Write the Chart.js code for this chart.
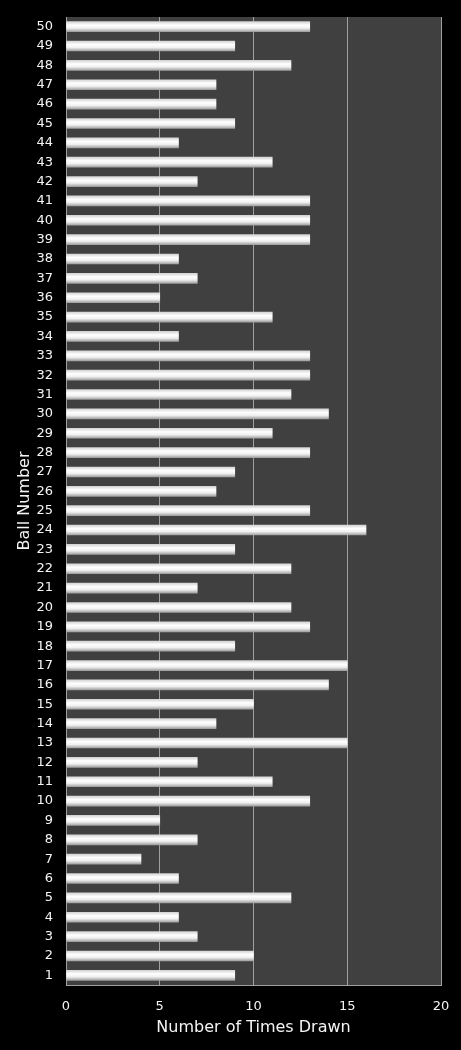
<!DOCTYPE html>
<html>
<head>
<meta charset="utf-8">
<script src="https://cdn.jsdelivr.net/npm/chart.js@4"></script>
<style>
  html, body { margin: 0; padding: 0; background: #000; }
  #wrap { width: 461px; height: 1050px; }
</style>
</head>
<body>
<div id="wrap"><canvas id="ballChart" width="461" height="1050"></canvas></div>
<script>
// ball numbers 1..50 (bottom to top) and how often each was drawn
const balls = ['1','2','3','4','5','6','7','8','9','10','11','12','13','14','15','16','17','18','19','20',
  '21','22','23','24','25','26','27','28','29','30','31','32','33','34','35','36','37','38','39','40',
  '41','42','43','44','45','46','47','48','49','50'];
const timesDrawn = [9,10,7,6,12,6,4,7,5,13, 11,7,15,8,10,14,15,9,13,12,
  7,12,9,16,13,8,9,13,11,14, 12,13,13,6,11,5,7,6,13,13,
  13,7,11,6,9,8,8,12,9,13];
const xTicks = [0, 5, 10, 15, 20];

const plotBg = {
    id: 'plotBg',
    beforeDraw(chart) {
        const { ctx, chartArea: a } = chart;
        ctx.save();
        ctx.fillStyle = '#404040';
        ctx.fillRect(a.left, a.top, a.right - a.left, a.bottom - a.top);
        ctx.restore();
    }
};

function barFill(context) {
    const chart = context.chart;
    const yScale = chart.scales.y;
    if (!yScale || context.dataIndex === undefined) return '#e0e0e0';
    const y = yScale.getPixelForValue(context.dataIndex);
    if (!isFinite(y)) return '#e0e0e0';
    const g = chart.ctx.createLinearGradient(0, y - 5, 0, y + 5);
    g.addColorStop(0, '#d4d4d4');
    g.addColorStop(0.35, '#ffffff');
    g.addColorStop(0.65, '#f0f0f0');
    g.addColorStop(1, '#a0a0a0');
    return g;
}

const ctx = document.getElementById('ballChart').getContext('2d');
new Chart(ctx, {
    type: 'bar',
    data: {
        labels: balls,
        datasets: [{
            data: timesDrawn,
            backgroundColor: barFill,
            borderWidth: 0,
            barThickness: 10
        }]
    },
    options: {
        indexAxis: 'y',
        responsive: false,
        animation: false,
        layout: { padding: { top: 17, right: 20, left: 0, bottom: 0 } },
        plugins: {
            legend: { display: false },
            tooltip: { enabled: false }
        },
        scales: {
            x: {
                min: 0,
                max: 20,
                afterBuildTicks: (scale) => { scale.ticks = xTicks.map(v => ({ value: v })); },
                afterFit: (scale) => {
                    scale.height = 65;
                    scale.paddingLeft = 0;
                    scale.paddingRight = 0;
                },
                grid: { color: '#a0a0a0', lineWidth: 1, drawTicks: false },
                border: { display: true, color: '#a0a0a0' },
                ticks: {
                    color: '#f4f4f4',
                    padding: 14,
                    font: { family: 'DejaVu Sans', size: 13 }
                },
                title: {
                    display: true,
                    text: 'Number of Times Drawn',
                    color: '#f4f4f4',
                    padding: { top: 13, bottom: 13 },
                    font: { family: 'DejaVu Sans', size: 16 }
                }
            },
            y: {
                reverse: true,
                afterFit: (scale) => {
                    scale.width = 66;
                    scale.paddingTop = 0;
                    scale.paddingBottom = 0;
                },
                grid: { display: false, drawTicks: false },
                border: { display: false },
                ticks: {
                    color: '#f4f4f4',
                    padding: 13,
                    autoSkip: false,
                    font: { family: 'DejaVu Sans', size: 13 }
                },
                title: {
                    display: true,
                    text: 'Ball Number',
                    color: '#f4f4f4',
                    padding: { top: 15, bottom: 4 },
                    font: { family: 'DejaVu Sans', size: 16 }
                }
            }
        }
    },
    plugins: [plotBg]
});
</script>
</body>
</html>
